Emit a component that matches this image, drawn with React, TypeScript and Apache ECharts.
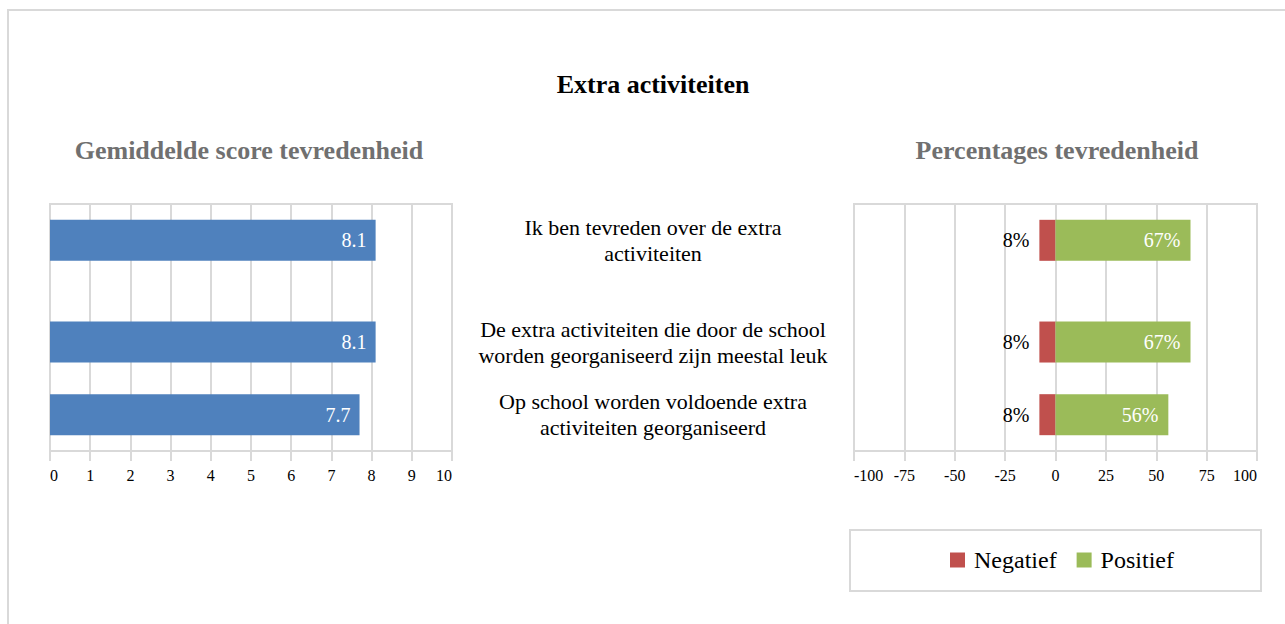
import React, { useEffect, useRef } from 'react';
import * as echarts from 'echarts';

// ---- data ----
const questions = [
  'Ik ben tevreden over de extra\nactiviteiten',
  'De extra activiteiten die door de school\nworden georganiseerd zijn meestal leuk',
  'Op school worden voldoende extra\nactiviteiten georganiseerd',
];
const meanScores = [8.1, 8.1, 7.7];
const negatief = [-8, -8, -8];
const positief = [67, 67, 56];
const seriesNames = ['Negatief', 'Positief'];

// ---- layout (row slots on the category axis) ----
const SLOT_COUNT = 17;
const rowSlots = [2, 9, 14];

const FONT = '"Liberation Serif", "Times New Roman", serif';
const GRID_COLOR = '#d9d9d9';

function spread(values: (number | string)[]): (number | string)[] {
  const out: (number | string)[] = new Array(SLOT_COUNT).fill('-');
  rowSlots.forEach((s, i) => (out[s] = values[i]));
  return out;
}
const slotCats = Array.from({ length: SLOT_COUNT }, (_, i) => 's' + i);
const slotLabels: string[] = new Array(SLOT_COUNT).fill('');
rowSlots.forEach((s, i) => (slotLabels[s] = questions[i]));

const xAxisCommon = {
  axisLine: { show: true, lineStyle: { color: GRID_COLOR, width: 2 } },
  axisTick: { show: true, length: 10, lineStyle: { color: GRID_COLOR, width: 2 } },
  splitLine: { show: true, lineStyle: { color: GRID_COLOR, width: 2 } },
  axisLabel: {
    color: '#000',
    fontSize: 16,
    fontFamily: FONT,
    margin: 16,
    alignMinLabel: 'left',
    alignMaxLabel: 'right',
  },
};

export default function App() {
  const ref = useRef<HTMLDivElement>(null);
  useEffect(() => {
    if (!ref.current) return;
    const chart = echarts.init(ref.current, undefined, { renderer: 'svg' });
    chart.setOption({
      animation: false,
      backgroundColor: '#fff',
      graphic: [
        {
          type: 'rect',
          shape: { x: 8, y: 10, width: 1300, height: 700 },
          style: { fill: 'none', stroke: GRID_COLOR, lineWidth: 2 },
          silent: true,
        },
        {
          type: 'rect',
          shape: { x: 850, y: 530, width: 411, height: 61 },
          style: { fill: 'none', stroke: GRID_COLOR, lineWidth: 2 },
          silent: true,
        },
        {
          type: 'text',
          x: 653,
          y: 84.5,
          style: {
            text: 'Extra activiteiten',
            fill: '#000',
            font: 'bold 26px ' + FONT,
            textAlign: 'center',
            textVerticalAlign: 'middle',
          },
        },
        {
          type: 'text',
          x: 249,
          y: 150,
          style: {
            text: 'Gemiddelde score tevredenheid',
            fill: '#707070',
            font: 'bold 26px ' + FONT,
            textAlign: 'center',
            textVerticalAlign: 'middle',
          },
        },
        {
          type: 'text',
          x: 1057,
          y: 150,
          style: {
            text: 'Percentages tevredenheid',
            fill: '#707070',
            font: 'bold 26px ' + FONT,
            textAlign: 'center',
            textVerticalAlign: 'middle',
          },
        },
      ],
      legend: {
        data: seriesNames,
        left: 950,
        top: 548,
        padding: 0,
        itemWidth: 15,
        itemHeight: 15,
        itemGap: 20,
        icon: 'rect',
        textStyle: { fontSize: 24, fontFamily: FONT, color: '#000', padding: [0, 0, 0, 4] },
      },
      grid: [
        {
          left: 50, top: 204, width: 402, height: 247,
          show: true, borderColor: GRID_COLOR, borderWidth: 2, containLabel: false,
        },
        {
          left: 854, top: 204, width: 403, height: 247,
          show: true, borderColor: GRID_COLOR, borderWidth: 2, containLabel: false,
        },
      ],
      xAxis: [
        { type: 'value', gridIndex: 0, min: 0, max: 10, interval: 1, ...xAxisCommon },
        { type: 'value', gridIndex: 1, min: -100, max: 100, interval: 25, ...xAxisCommon },
      ],
      yAxis: [
        {
          type: 'category', gridIndex: 0, data: slotCats, inverse: true,
          axisLine: { show: false }, axisTick: { show: false }, axisLabel: { show: false },
          splitLine: { show: false },
        },
        {
          type: 'category', gridIndex: 1, data: slotCats, inverse: true,
          axisLine: { show: false }, axisTick: { show: false }, splitLine: { show: false },
          axisLabel: {
            show: true,
            interval: 0,
            margin: 201,
            align: 'center',
            color: '#000',
            fontSize: 22,
            lineHeight: 26,
            fontFamily: FONT,
            padding: [4, 0, 0, 0],
            formatter: (_v: string, idx: number) => slotLabels[idx] || '',
          },
        },
      ],
      series: [
        {
          type: 'bar',
          name: 'Gemiddelde score',
          xAxisIndex: 0,
          yAxisIndex: 0,
          data: spread(meanScores),
          barWidth: 41,
          itemStyle: { color: '#4F81BD' },
          label: {
            show: true,
            position: 'insideRight',
            distance: 9,
            color: '#fff',
            fontSize: 20,
            fontFamily: FONT,
            formatter: (p: any) => Number(p.value).toFixed(1),
          },
        },
        {
          type: 'bar',
          name: seriesNames[0],
          xAxisIndex: 1,
          yAxisIndex: 1,
          stack: 'pct',
          data: spread(negatief),
          barWidth: 41,
          itemStyle: { color: '#C0504D' },
          label: {
            show: true,
            position: 'left',
            distance: 10,
            color: '#000',
            fontSize: 20,
            fontFamily: FONT,
            formatter: (p: any) => Math.abs(Number(p.value)) + '%',
          },
        },
        {
          type: 'bar',
          name: seriesNames[1],
          xAxisIndex: 1,
          yAxisIndex: 1,
          stack: 'pct',
          data: spread(positief),
          barWidth: 41,
          itemStyle: { color: '#9BBB59' },
          label: {
            show: true,
            position: 'insideRight',
            distance: 10,
            color: '#fff',
            fontSize: 20,
            fontFamily: FONT,
            formatter: (p: any) => Number(p.value) + '%',
          },
        },
      ],
    });
    return () => chart.dispose();
  }, []);
  return (
    <div
      ref={ref}
      style={{ position: 'absolute', left: 0, top: 0, width: 1285, height: 624 }}
    />
  );
}
